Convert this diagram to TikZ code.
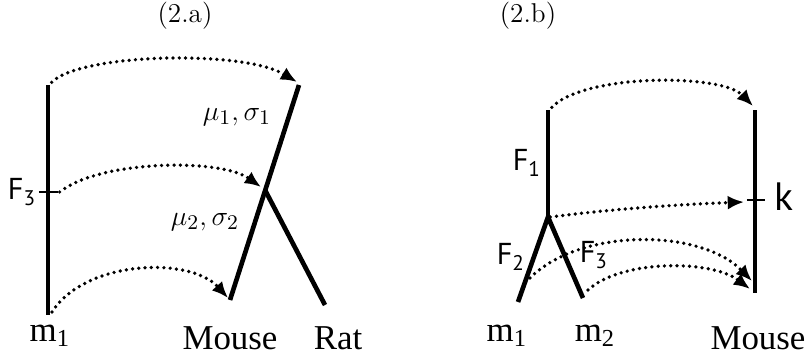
\documentclass[tikz,border=0pt]{standalone}
\usepackage{amsmath}
\usepackage{fontspec}
\newfontfamily\tms{Liberation Serif}
\newfontfamily\myr{PT Sans}
\usetikzlibrary{arrows.meta, positioning}

\begin{document}
\begin{tikzpicture}[x=0.43pt, y=-0.43pt,
  branch/.style={line width=2pt},
  tick/.style={line width=1.2pt},
  flow/.style={line width=1.6pt, dash pattern=on 0pt off 2.7pt, line cap=round,
               -{Latex[length=7pt, width=6pt]}},
  title/.style={font=\fontsize{11.7}{14}\selectfont},
  leaf/.style={font=\tms\fontsize{15}{18}\selectfont},
  par/.style={font=\fontsize{12.5}{15}\selectfont},
  fam/.style={font=\myr\fontsize{13}{15}\selectfont, inner sep=1pt}
]
\useasboundingbox (0,0) rectangle (807,360);

% (2.a)
\node[title] (ta) at (185,16) {(2.a)};
\coordinate (am1top) at (48,85);
\coordinate (am1bot) at (48,315);
\coordinate (af3) at (48,192);
\coordinate (atop) at (299,85);
\coordinate (ajoin) at (265,190);
\coordinate (amouse) at (230,300);
\coordinate (arat) at (325,305);

\draw[branch] (am1top) -- (am1bot);
\draw[branch] (amouse) -- (atop);
\draw[branch] (ajoin) -- (arat);
\draw[tick] ([xshift=-3.9pt]af3) -- ([xshift=4.3pt]af3);

\node[fam, anchor=east] (F3a) at (39,192) {F\textsubscript{3}};
\node[par] (mu1) at (237,117) {$\mu_1,\sigma_1$};
\node[par] (mu2) at (205,222) {$\mu_2,\sigma_2$};
\node[leaf] (m1a) at (50,336) {m\textsubscript{1}};
\node[leaf] (mousea) at (230,338) {Mouse};
\node[leaf] (rat) at (338,338) {Rat};

\coordinate (aend1) at (297,82);
\coordinate (aend2) at (261,187);
\coordinate (aend3) at (228,298);
\draw[flow] ([yshift=-1pt]am1top) .. controls (62,54) and (240,48) .. (aend1);
\draw[flow] ([xshift=5pt]af3) .. controls (100,160) and (220,158) .. (aend2);
\draw[flow] (52,312) .. controls (85,260) and (190,256) .. (aend3);

% (2.b)
\node[title] (tb) at (528,16) {(2.b)};
\coordinate (bf1top) at (548,110);
\coordinate (bjoin) at (548,217);
\coordinate (bm1) at (518,302);
\coordinate (bm2) at (583,298);
\coordinate (bmtop) at (755,110);
\coordinate (bmbot) at (755,293);
\coordinate (bk) at (755,200);

\draw[branch] (bf1top) -- (bjoin);
\draw[branch] (bm1) -- (bjoin) -- (bm2);
\draw[branch] (bmtop) -- (bmbot);
\draw[tick] ([xshift=-3.5pt]bk) -- ([xshift=4.3pt]bk);

\node[fam] (F1) at (527,163) {F\textsubscript{1}};
\node[fam] (F2) at (511,257) {F\textsubscript{2}};
\node[fam] (F3b) at (594,255) {F\textsubscript{3}};
\node[fam, font=\myr\fontsize{17}{19}\selectfont, anchor=west] (k) at (772,197) {k};
\node[leaf] (m1b) at (507,336) {m\textsubscript{1}};
\node[leaf] (m2b) at (595,336) {m\textsubscript{2}};
\node[leaf] (mouseb) at (758,338) {Mouse};

\coordinate (bend1) at (753,106);
\coordinate (bend2) at (744,202);
\coordinate (bend3) at (752,281);
\coordinate (bend4) at (750,289);
\draw[flow] ([yshift=-1pt]bf1top) .. controls (570,74) and (720,72) .. (bend1);
\draw[flow] ([xshift=1pt]bjoin) .. controls (620,208) and (690,204) .. (bend2);
\draw[flow] (530,278) .. controls (580,228) and (700,228) .. (bend3);
\draw[flow] (588,290) .. controls (620,260) and (710,259) .. (bend4);
\end{tikzpicture}
\end{document}
